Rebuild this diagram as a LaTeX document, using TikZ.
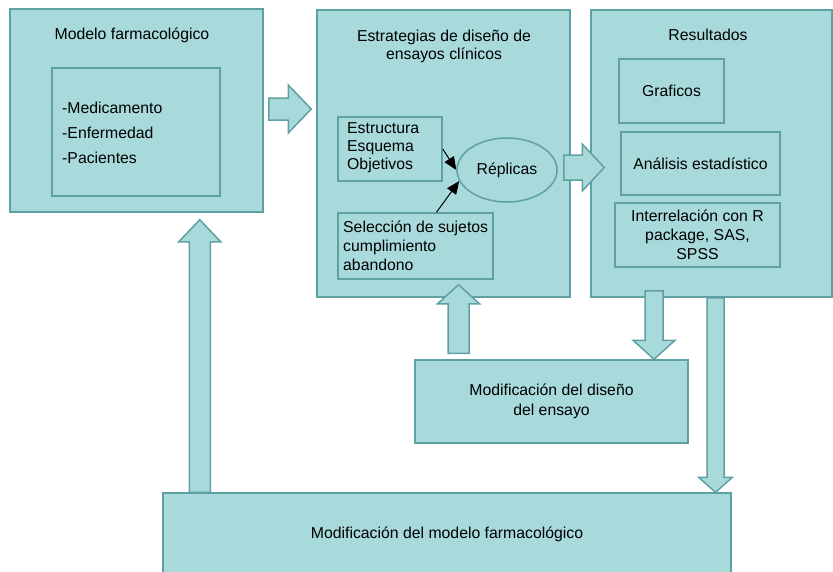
\documentclass[tikz,border=0pt]{standalone}
\usepackage{fontspec}
\setmainfont{Liberation Sans}
\usetikzlibrary{arrows.meta,calc,shapes.geometric}
\definecolor{boxfill}{RGB}{168,218,220}
\definecolor{boxline}{RGB}{95,160,162}
\tikzset{
  box/.style={draw=boxline,fill=boxfill,line width=1.5pt,inner sep=0pt,align=center},
  txt/.style={inner sep=0pt},
  blk/.style={draw=boxline,fill=boxfill,line width=1.5pt,line join=miter},
  pointer/.style={-{Triangle[length=13pt,width=11pt]},line width=1pt}
}
% fat arrows: tail, tip, shaft half width, head half width, head base offset from tip
\newcommand\vblock[5]{%
  \draw[blk] ($(#1)+(-#3,0)$) -- ($(#2)+(-#3,#5)$) -- ($(#2)+(-#4,#5)$) -- (#2)
    -- ($(#2)+(#4,#5)$) -- ($(#2)+(#3,#5)$) -- ($(#1)+(#3,0)$) -- cycle;}
\newcommand\hblock[5]{%
  \draw[blk] ($(#1)+(0,-#3)$) -- ($(#2)+(#5,-#3)$) -- ($(#2)+(#5,-#4)$) -- (#2)
    -- ($(#2)+(#5,#4)$) -- ($(#2)+(#5,#3)$) -- ($(#1)+(0,#3)$) -- cycle;}
\begin{document}
\begin{tikzpicture}[x=1pt,y=-1pt,font=\fontsize{15.8}{19}\selectfont]
\useasboundingbox (0,0) rectangle (833,571);

% modelo
\node[box,minimum width=253pt,minimum height=203pt] (model) at (136.5,110.5) {};
\node[txt] (modeltit) at (132,35) {Modelo farmacológico};
\node[box,minimum width=168pt,minimum height=128pt] (modelin) at (136,132) {};
\foreach \y/\t in {108/Medicamento,133/Enfermedad,158/Pacientes}
{
    \node[txt,right] (m\y) at (62,\y) {-\t};
}

% estrategias
\node[box,minimum width=253pt,minimum height=287pt] (design) at (443.5,153.5) {};
\node[txt,align=center,font=\fontsize{15.8}{18}\selectfont] (designtit) at (444,46) {Estrategias de diseño de\\ensayos clínicos};
\node[box,minimum width=104pt,minimum height=64pt] (est) at (390,149) {};
\node[txt,right,align=left,font=\fontsize{15.8}{18}\selectfont] (esttxt) at (347,148) {Estructura\\Esquema\\Objetivos};
\node[box,minimum width=155pt,minimum height=66pt] (sel) at (415.5,246) {};
\node[txt,right,align=left] (seltxt) at (343,246) {Selección de sujetos\\cumplimiento\\abandono};
\node[box,ellipse,minimum width=100pt,minimum height=64pt] (rep) at (507,170) {Réplicas};
\draw[pointer] (est.east) -- (rep.west);
\draw[pointer] ([xshift=21pt]sel.north) -- (rep.193);

% resultados
\node[box,minimum width=241pt,minimum height=287pt] (results) at (711.5,153.5) {};
\node[txt] (resultstit) at (708,35) {Resultados};
\node[box,minimum width=105pt,minimum height=64pt] (graf) at (671.5,91) {Graficos};
\node[box,minimum width=159pt,minimum height=63pt] (anal) at (700.5,163.5) {Análisis estadístico};
\node[box,minimum width=165pt,minimum height=64pt] (inter) at (697.5,235) {Interrelación con R\\package, SAS,\\SPSS};

% modificaciones
\node[box,minimum width=273pt,minimum height=83pt,font=\fontsize{15.8}{20}\selectfont] (diseno) at (551.5,401.5) {Modificación del diseño\\del ensayo};
\node[box,minimum width=568pt,minimum height=82pt] (bottom) at (447,534) {Modificación del modelo farmacológico};

% flechas
\coordinate (ab0) at ($(model.east)+(5,-1.5)$);
\coordinate (ab1) at ($(ab0 -| design.west)+(-5,0)$);
\coordinate (bc0) at ($(design.east)+(-7,14)$);
\coordinate (bc1) at ($(bc0 -| results.west)+(14,0)$);
\coordinate (du0) at ($(diseno.north)+(-93,-6)$);
\coordinate (du1) at ($(du0 |- design.south)+(0,-13)$);
\coordinate (rd0) at ($(results.south)+(-57.5,-7)$);
\coordinate (rd1) at (rd0 |- diseno.north);
\coordinate (rb0) at ($(results.south)+(4,0)$);
\coordinate (rb1) at (rb0 |- bottom.north);
\coordinate (bm0) at ($(bottom.north west)+(37.5,0)$);
\coordinate (bm1) at ($(bm0 |- model.south)+(0,7)$);
\hblock{ab0}{ab1}{11}{24}{-23}
\hblock{bc0}{bc1}{12.5}{23.5}{-22}
\vblock{du0}{du1}{10.5}{21}{19}
\vblock{rd0}{rd1}{9}{21}{-19}
\vblock{rb0}{rb1}{8.5}{17}{-15}
\vblock{bm0}{bm1}{10.5}{21}{22}

\end{tikzpicture}
\end{document}
